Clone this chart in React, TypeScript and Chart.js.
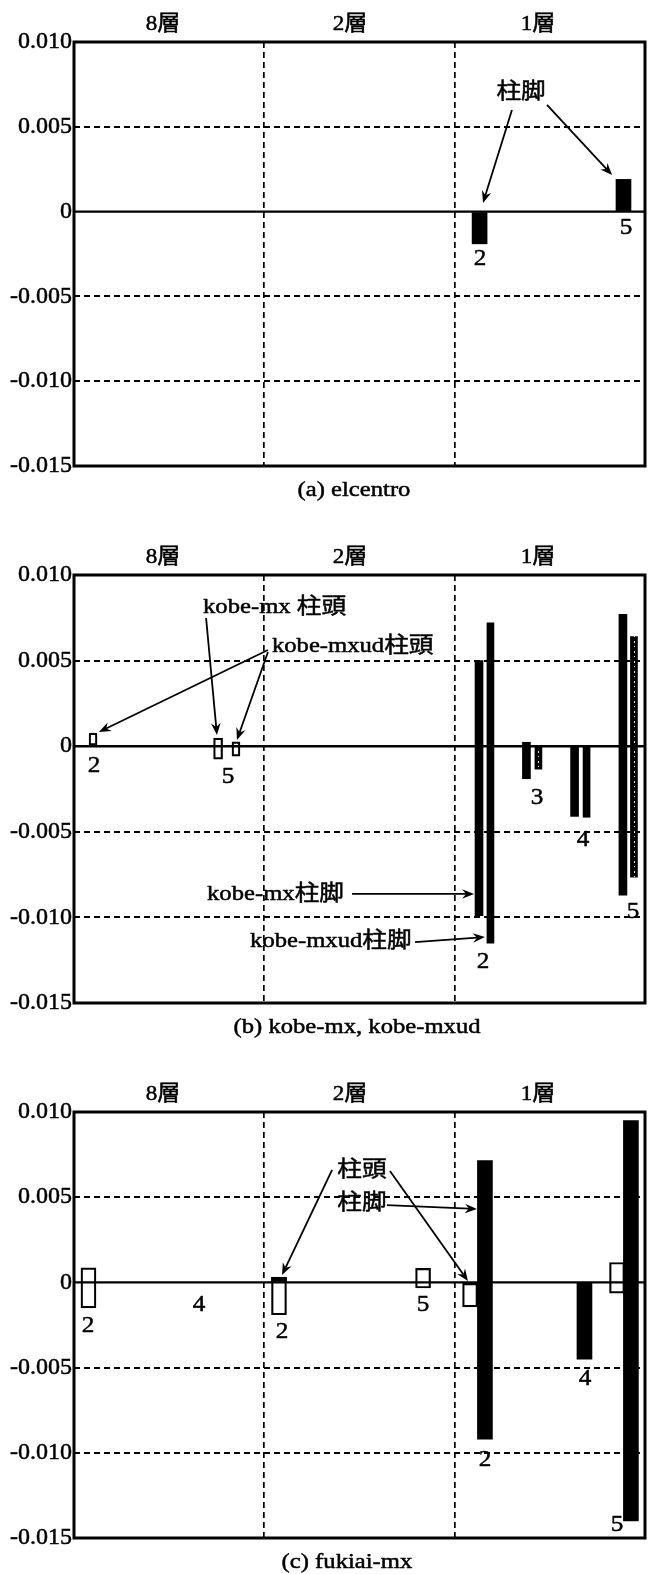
import React, { useEffect, useRef } from 'react';
import { Chart, registerables } from 'chart.js';

Chart.register(...registerables);

const FONT = "'Liberation Serif', 'Noto Sans CJK JP', serif";

// ---- shared axis data ----
const storyLabels = ['8層', '2層', '1層'];
const storyHeaderX = [0.468, 1.45, 2.438];
const storyDividers = [1, 2];
const xMin = 0;
const xMax = 3;
const yMin = -0.015;
const yMax = 0.01;
const yTickValues = [-0.015, -0.01, -0.005, 0, 0.005, 0.01];
const yTickLabels = ['-0.015', '-0.010', '-0.005', '0', '0.005', '0.010'];

// ---- (a) elcentro ----
const aBaseX = [2.131, 2.887];
const aBaseLo = [-0.0019, 0];
const aBaseHi = [0, 0.0019];
const aNumText = ['2', '5'];
const aNumX = [2.133, 2.9];
const aNumY = [-0.00279, -0.00097];

// ---- (b) kobe-mx, kobe-mxud ----
const bMxHeadX = [0.757];
const bMxHeadLo = [-0.00076];
const bMxHeadHi = [0.00047];
const bMxudHeadX = [0.1, 0.851];
const bMxudHeadLo = [0, -0.00058];
const bMxudHeadHi = [0.00076, 0.00025];
const bMxBaseX = [2.128, 2.377, 2.63, 2.884];
const bMxBaseLo = [-0.0099, -0.0019, -0.0041, -0.0087];
const bMxBaseHi = [0.005, 0.00023, 0, 0.0077];
const bMxudBaseX = [2.188, 2.44, 2.693, 2.942];
const bMxudBaseLo = [-0.0115, -0.00134, -0.00415, -0.00765];
const bMxudBaseHi = [0.0072, 0, 0, 0.0064];
const bNumText = ['2', '5', '3', '4', '5', '2'];
const bNumX = [0.105, 0.809, 2.433, 2.674, 2.937, 2.149];
const bNumY = [-0.00116, -0.0018, -0.00303, -0.00548, -0.00968, -0.0126];

// ---- (c) fukiai-mx ----
const cHeadX = [0.076, 1.077, 1.834, 2.081, 2.853];
const cHeadLo = [-0.0015, -0.0019, -0.00033, -0.00144, -0.00063];
const cHeadHi = [0.00085, 0.0003, 0.00082, 0, 0.00117];
const cBaseX = [1.077, 2.159, 2.682, 2.926];
const cBaseLo = [0, -0.0092, -0.0045, -0.014];
const cBaseHi = [0.0003, 0.00715, 0, 0.0095];
const cNumText = ['2', '4', '2', '5', '2', '4', '5'];
const cNumX = [0.074, 0.657, 1.093, 1.834, 2.159, 2.685, 2.853];
const cNumY = [-0.00256, -0.00133, -0.00291, -0.00133, -0.01042, -0.00567, -0.01424];

type Series = {
  label: string;
  x: number[];
  lo: number[];
  hi: number[];
  hollow: boolean;
  thickness: number;
  speckle?: number[];
};
type Note = { text: string; x: number; y: number; align: CanvasTextAlign };
type Panel = {
  series: Series[];
  numText: string[];
  numX: number[];
  numY: number[];
  notes: Note[];
  arrows: number[][];
  caption: string;
  captionX: number;
  top: number;
  height: number;
  padTop: number;
  padBottom: number;
};

const panels: Panel[] = [
  {
    series: [{ label: '柱脚', x: aBaseX, lo: aBaseLo, hi: aBaseHi, hollow: false, thickness: 15 }],
    numText: aNumText,
    numX: aNumX,
    numY: aNumY,
    notes: [{ text: '柱脚', x: 2.349, y: 0.00705, align: 'center' }],
    arrows: [
      [2.301, 0.00599, 2.149, 0.00051],
      [2.485, 0.00629, 2.827, 0.00216],
    ],
    caption: '(a) elcentro',
    captionX: 1.471,
    top: 0,
    height: 520,
    padTop: 42,
    padBottom: 54,
  },
  {
    series: [
      { label: 'kobe-mx柱脚', x: bMxBaseX, lo: bMxBaseLo, hi: bMxBaseHi, hollow: false, thickness: 8 },
      { label: 'kobe-mxud柱脚', x: bMxudBaseX, lo: bMxudBaseLo, hi: bMxudBaseHi, hollow: false, thickness: 7, speckle: [1, 3] },
      { label: 'kobe-mx柱頭', x: bMxHeadX, lo: bMxHeadLo, hi: bMxHeadHi, hollow: true, thickness: 9 },
      { label: 'kobe-mxud柱頭', x: bMxudHeadX, lo: bMxudHeadLo, hi: bMxudHeadHi, hollow: true, thickness: 8 },
    ],
    numText: bNumText,
    numX: bNumX,
    numY: bNumY,
    notes: [
      { text: 'kobe-mx 柱頭', x: 0.678, y: 0.0081, align: 'left' },
      { text: 'kobe-mxud柱頭', x: 1.04, y: 0.00585, align: 'left' },
      { text: 'kobe-mx柱脚', x: 0.699, y: -0.00863, align: 'left' },
      { text: 'kobe-mxud柱脚', x: 0.925, y: -0.01138, align: 'left' },
    ],
    arrows: [
      [0.694, 0.00749, 0.751, 0.00065],
      [1.019, 0.00562, 0.131, 0.00083],
      [1.019, 0.0055, 0.856, 0.00036],
      [1.461, -0.00863, 2.102, -0.00863],
      [1.792, -0.01144, 2.159, -0.01115],
    ],
    caption: '(b) kobe-mx, kobe-mxud',
    captionX: 1.487,
    top: 520,
    height: 530,
    padTop: 55,
    padBottom: 47,
  },
  {
    series: [
      { label: '柱脚', x: cBaseX, lo: cBaseLo, hi: cBaseHi, hollow: false, thickness: 15 },
      { label: '柱頭', x: cHeadX, lo: cHeadLo, hi: cHeadHi, hollow: true, thickness: 15 },
    ],
    numText: cNumText,
    numX: cNumX,
    numY: cNumY,
    notes: [
      { text: '柱頭', x: 1.513, y: 0.0066, align: 'center' },
      { text: '柱脚', x: 1.513, y: 0.00466, align: 'center' },
    ],
    arrows: [
      [1.356, 0.0066, 1.093, 0.00043],
      [1.66, 0.00654, 2.07, 0.00008],
      [1.644, 0.00454, 2.117, 0.00431],
    ],
    caption: '(c) fukiai-mx',
    captionX: 1.434,
    top: 1050,
    height: 524,
    padTop: 62,
    padBottom: 36,
  },
];

function drawText(
  ctx: CanvasRenderingContext2D,
  text: string,
  x: number,
  y: number,
  size: number,
  align: CanvasTextAlign,
  stretch: number
) {
  ctx.save();
  ctx.font = `${size}px ${FONT}`;
  ctx.fillStyle = '#000';
  ctx.strokeStyle = '#000';
  ctx.lineWidth = 0.5;
  ctx.lineJoin = 'round';
  ctx.textBaseline = 'middle';
  ctx.textAlign = align;
  ctx.translate(x, y);
  ctx.scale(stretch, 1);
  ctx.fillText(text, 0, 0);
  ctx.strokeText(text, 0, 0);
  ctx.restore();
}

function drawArrow(ctx: CanvasRenderingContext2D, x1: number, y1: number, x2: number, y2: number) {
  const ang = Math.atan2(y2 - y1, x2 - x1);
  const L = 12;
  const W = 4.8;
  const N = 8;
  ctx.save();
  ctx.strokeStyle = '#000';
  ctx.fillStyle = '#000';
  ctx.lineWidth = 1.8;
  ctx.beginPath();
  ctx.moveTo(x1, y1);
  ctx.lineTo(x2 - Math.cos(ang) * N, y2 - Math.sin(ang) * N);
  ctx.stroke();
  ctx.translate(x2, y2);
  ctx.rotate(ang);
  ctx.beginPath();
  ctx.moveTo(0, 0);
  ctx.lineTo(-L, -W);
  ctx.lineTo(-N, 0);
  ctx.lineTo(-L, W);
  ctx.closePath();
  ctx.fill();
  ctx.restore();
}

function makeSpeckle(): CanvasPattern | null {
  const c = document.createElement('canvas');
  c.width = 7;
  c.height = 10;
  const g = c.getContext('2d');
  if (!g) return null;
  g.fillStyle = '#000000';
  g.fillRect(0, 0, 7, 10);
  g.fillStyle = '#e0e0e0';
  g.fillRect(1, 1, 1, 2);
  g.fillRect(1, 6, 1, 1);
  return g.createPattern(c, 'repeat');
}

function decor(spec: Panel) {
  return {
    id: 'decor',
    afterDatasetsDraw(chart: any) {
      const { ctx, chartArea: a } = chart;
      const sx = chart.scales.x;
      const sy = chart.scales.y;
      const X = (v: number) => sx.getPixelForValue(v);
      const Y = (v: number) => sy.getPixelForValue(v);
      ctx.save();
      ctx.strokeStyle = '#000';
      ctx.lineWidth = 2.4;
      ctx.beginPath();
      ctx.moveTo(a.left, Y(0));
      ctx.lineTo(a.right, Y(0));
      ctx.stroke();
      ctx.lineWidth = 3;
      ctx.strokeRect(a.left, a.top, a.right - a.left, a.bottom - a.top);
      ctx.restore();
      storyLabels.forEach((t, i) => drawText(ctx, t, X(storyHeaderX[i]), a.top - 18, 22, 'center', 1.05));
      spec.numText.forEach((t, i) => drawText(ctx, t, X(spec.numX[i]), Y(spec.numY[i]), 24, 'center', 1.05));
      spec.notes.forEach((n) => drawText(ctx, n.text, X(n.x), Y(n.y), 22, n.align, 1.12));
      spec.arrows.forEach(([x1, y1, x2, y2]) => drawArrow(ctx, X(x1), Y(y1), X(x2), Y(y2)));
      drawText(ctx, spec.caption, X(spec.captionX), a.bottom + 24, 22, 'center', 1.12);
    },
  };
}

function ChartPanel({ spec }: { spec: Panel }) {
  const ref = useRef<HTMLCanvasElement>(null);
  useEffect(() => {
    const canvas = ref.current;
    if (!canvas) return;
    const datasets = spec.series.map((s) => ({
      type: 'bar' as const,
      label: s.label,
      data: s.x.map((x, i) => ({ x, y: [s.lo[i], s.hi[i]] })),
      backgroundColor: s.hollow
        ? '#ffffff'
        : s.speckle
        ? (c: any) => {
            if (c.type !== 'data' || !s.speckle!.includes(c.dataIndex)) return '#000000';
            const p = makeSpeckle();
            if (!p) return '#111111';
            try {
              const px = c.chart.scales.x.getPixelForValue(s.x[c.dataIndex]);
              p.setTransform(new DOMMatrix().translate(Math.round(px) - 1, 0));
            } catch (e) {
              /* ignore */
            }
            return p;
          }
        : '#000000',
      borderColor: '#000000',
      borderWidth: s.hollow ? 2.2 : 0,
      borderSkipped: false as const,
      barThickness: s.thickness,
      grouped: true,
    }));

    const chart = new Chart(canvas, {
      type: 'bar',
      data: { datasets: datasets as any },
      options: {
        responsive: false,
        animation: false,
        events: [],
        layout: { padding: { top: spec.padTop, right: 3, bottom: spec.padBottom, left: 0 } },
        plugins: { legend: { display: false }, tooltip: { enabled: false }, title: { display: false } },
        scales: {
          x: {
            type: 'linear',
            min: xMin,
            max: xMax,
            offset: false,
            stacked: true,
            afterBuildTicks: (scale: any) => {
              scale.ticks = storyDividers.map((v) => ({ value: v }));
            },
            afterFit: (scale: any) => {
              scale.height = 0;
            },
            ticks: { display: false },
            grid: { color: '#000', lineWidth: 1.7, drawTicks: false, offset: false },
            border: { display: false, dash: [6, 4] },
          },
          y: {
            type: 'linear',
            min: yMin,
            max: yMax,
            stacked: false,
            afterBuildTicks: (scale: any) => {
              scale.ticks = yTickValues.map((v) => ({ value: v }));
            },
            afterFit: (scale: any) => {
              scale.width = 74;
            },
            ticks: {
              autoSkip: false,
              padding: 2,
              color: '#000',
              textStrokeColor: '#000',
              textStrokeWidth: 0.5,
              font: { family: FONT, size: 24 },
              callback: (_v: any, i: number) => yTickLabels[i],
            },
            grid: {
              drawTicks: false,
              lineWidth: 2,
              color: (c: any) => {
                const v = c.tick ? c.tick.value : null;
                if (v === null || Math.abs(v) < 1e-9 || Math.abs(v - yMax) < 1e-9 || Math.abs(v - yMin) < 1e-9) {
                  return 'rgba(0,0,0,0)';
                }
                return '#000';
              },
            },
            border: { display: false, dash: [6, 4] },
          },
        },
      } as any,
      plugins: [decor(spec)],
    });
    return () => chart.destroy();
  }, [spec]);
  return (
    <canvas
      ref={ref}
      width={648}
      height={spec.height}
      style={{ position: 'absolute', left: 0, top: spec.top, width: 648, height: spec.height, display: 'block' }}
    />
  );
}

export default function App() {
  return (
    <div style={{ position: 'absolute', left: 0, top: 0, width: 648, height: 1574, background: '#fff' }}>
      {panels.map((p, i) => (
        <ChartPanel key={i} spec={p} />
      ))}
    </div>
  );
}
